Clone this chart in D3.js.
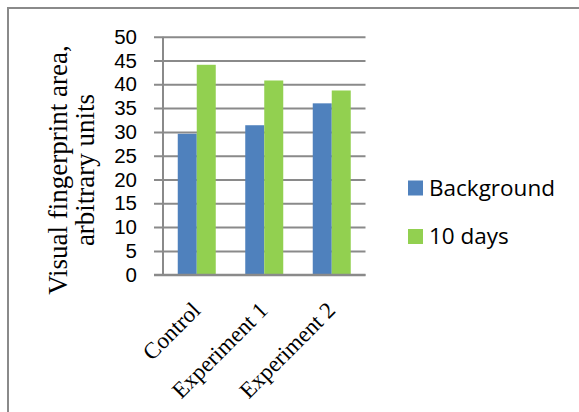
<!DOCTYPE html>
<html>
<head>
<meta charset="utf-8">
<script src="https://cdn.jsdelivr.net/npm/d3@7"></script>
<style>
  html, body { margin: 0; padding: 0; background: #fff; }
  svg { display: block; }
</style>
</head>
<body>
<svg id="chart" width="579" height="412"></svg>
<script>
// Chart data
const categories = ["Control", "Experiment 1", "Experiment 2"];
const seriesNames = ["Background", "10 days"];
const backgroundValues = [29.6, 31.4, 36.0];
const tenDaysValues = [44.1, 40.8, 38.7];
const yTicks = [0, 5, 10, 15, 20, 25, 30, 35, 40, 45, 50];
const seriesColors = ["#4F81BD", "#92D050"];
const yTitleLines = ["Visual fingerprint area,", "arbitrary units"];

const series = [backgroundValues, tenDaysValues];

const svg = d3.select("#chart");
const W = 579, H = 412;
const plot = { left: 163, right: 365.5, top: 36.7, bottom: 274.7, gridLeft: 154 };
const gridColor = "#8a8a8a";
const sansFont = "'Open Sans', 'Liberation Sans', sans-serif";
const tickFont = "'Liberation Sans', Arial, sans-serif";
const serifFont = "'Liberation Serif', 'DejaVu Serif', serif";

// Outer frame (right and bottom edges fall outside the canvas)
svg.append("rect")
  .attr("x", 8).attr("y", 8)
  .attr("width", W + 20).attr("height", H + 20)
  .attr("fill", "#fff")
  .attr("stroke", gridColor)
  .attr("stroke-width", 2);

const y = d3.scaleLinear().domain([0, 50]).range([plot.bottom, plot.top]);
const x0 = d3.scaleBand().domain(categories)
  .range([plot.left, plot.right])
  .paddingInner(0.437).paddingOuter(0.2185);
const x1 = d3.scaleBand().domain(seriesNames).range([0, x0.bandwidth()]);

// Horizontal gridlines with left tick stubs and value labels
const yAxis = d3.axisLeft(y)
  .tickValues(yTicks)
  .tickSize(-(plot.right - plot.gridLeft))
  .tickPadding(17)
  .tickFormat(d3.format("d"));

const gy = svg.append("g")
  .attr("transform", `translate(${plot.gridLeft},0)`)
  .call(yAxis);
gy.select(".domain").remove();
gy.selectAll(".tick line")
  .attr("stroke", gridColor)
  .attr("stroke-width", 2);
gy.selectAll(".tick text")
  .attr("fill", "#000")
  .style("font-family", tickFont)
  .style("font-size", "20.5px");

// Vertical axis line
svg.append("line")
  .attr("x1", plot.left).attr("x2", plot.left)
  .attr("y1", plot.top).attr("y2", plot.bottom)
  .attr("stroke", gridColor)
  .attr("stroke-width", 2);

// Bars
const groups = svg.append("g").selectAll("g")
  .data(categories)
  .join("g")
  .attr("transform", d => `translate(${x0(d)},0)`);

groups.selectAll("rect")
  .data((d, i) => seriesNames.map((s, j) => ({ s, j, v: series[j][i] })))
  .join("rect")
  .attr("x", d => x1(d.s))
  .attr("width", x1.bandwidth())
  .attr("y", d => y(d.v))
  .attr("height", d => y(0) - y(d.v))
  .attr("fill", d => seriesColors[d.j]);

// Baseline drawn over the bars
svg.append("line")
  .attr("x1", plot.gridLeft).attr("x2", plot.right)
  .attr("y1", y(0)).attr("y2", y(0))
  .attr("stroke", gridColor)
  .attr("stroke-width", 2);

// Category labels, rotated
svg.append("g").selectAll("text")
  .data(categories)
  .join("text")
  .attr("transform", d => {
    const cx = x0(d) + x0.bandwidth() / 2 + 5;
    const cy = plot.bottom + 37;
    return `translate(${cx},${cy}) rotate(-45)`;
  })
  .attr("text-anchor", "end")
  .style("font-family", serifFont)
  .style("font-size", "23px")
  .attr("fill", "#000")
  .text(d => d);

// Y axis title (two lines, rotated)
const yTitle = svg.append("text")
  .attr("transform", `translate(67,170) rotate(-90)`)
  .attr("text-anchor", "middle")
  .style("font-family", serifFont)
  .style("font-size", "27px")
  .attr("fill", "#000");
yTitle.selectAll("tspan")
  .data(yTitleLines)
  .join("tspan")
  .attr("x", 0)
  .attr("dy", (d, i) => i === 0 ? 0 : 27)
  .text(d => d);

// Legend
const legend = svg.append("g").attr("transform", "translate(408,0)");
const legendRows = [195.5, 244];
seriesNames.forEach((name, i) => {
  legend.append("rect")
    .attr("x", 0).attr("y", legendRows[i] - 15)
    .attr("width", 15).attr("height", 15)
    .attr("fill", seriesColors[i]);
  legend.append("text")
    .attr("x", 21).attr("y", legendRows[i])
    .style("font-family", sansFont)
    .style("font-size", "22.5px")
    .attr("fill", "#000")
    .text(name);
});
</script>
</body>
</html>
